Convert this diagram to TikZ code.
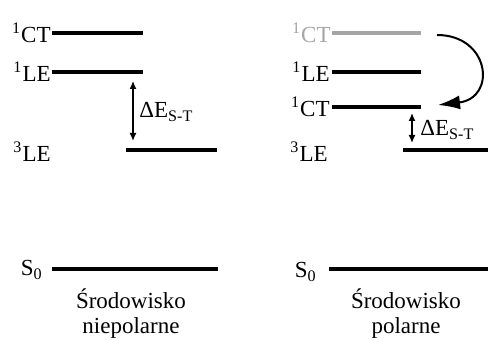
\documentclass[tikz,border=0pt]{standalone}
\usepackage{fontspec}
\setmainfont{Liberation Serif}
\usetikzlibrary{arrows.meta}
\begin{document}
\begin{tikzpicture}[x=0.5pt,y=-0.5pt,
  lvl/.style={line width=1.7pt,line cap=butt},
  lvlgray/.style={lvl,draw={rgb,255:red,165;green,165;blue,165}},
  lab/.style={font=\fontsize{11.5}{13}\selectfont,inner sep=0pt,anchor=east},
  glab/.style={lab,text={rgb,255:red,165;green,165;blue,165}},
  gap/.style={line width=0.7pt,{Latex[length=4pt,width=3.5pt]}-{Latex[length=4pt,width=3.5pt]}},
  dlab/.style={font=\fontsize{11.5}{13}\selectfont,inner sep=0pt,anchor=west},
  captxt/.style={font=\fontsize{11.5}{12.5}\selectfont,align=center,inner sep=0pt}]
\useasboundingbox (0,0) rectangle (488,340);
% left panel
\coordinate (lct1) at (52,33);  \coordinate (lct2) at (143,33);
\coordinate (lle1) at (52,72);  \coordinate (lle2) at (143,72);
\coordinate (ltl1) at (126,150); \coordinate (ltl2) at (217,150);
\coordinate (ls1) at (52,269);  \coordinate (ls2) at (218,269);
\draw[lvl] (lct1) -- (lct2);
\draw[lvl] (lle1) -- (lle2);
\draw[lvl] (ltl1) -- (ltl2);
\draw[lvl] (ls1) -- (ls2);
\node[lab] (lctl) at (51,33) {\textsuperscript{1}CT};
\node[lab] (llel) at (51,72) {\textsuperscript{1}LE};
\node[lab] (ltll) at (51,152) {\textsuperscript{3}LE};
\node[lab] (lsl) at (43,270) {S\textsubscript{0}};
\coordinate (lga) at (133,81); \coordinate (lgb) at (133,141);
\draw[gap] (lga) -- (lgb);
\node[dlab] (lgl) at (139,112) {ΔE\textsubscript{S-T}};
\node[captxt] (lcap) at (131,314) {Środowisko\\niepolarne};
% right panel
\coordinate (rct1) at (332,33);  \coordinate (rct2) at (421,33);
\coordinate (rle1) at (332,72);  \coordinate (rle2) at (421,72);
\coordinate (rcb1) at (332,107); \coordinate (rcb2) at (421,107);
\coordinate (rtl1) at (403,150); \coordinate (rtl2) at (488,150);
\coordinate (rs1) at (329,269);  \coordinate (rs2) at (488,269);
\draw[lvlgray] (rct1) -- (rct2);
\draw[lvl] (rle1) -- (rle2);
\draw[lvl] (rcb1) -- (rcb2);
\draw[lvl] (rtl1) -- (rtl2);
\draw[lvl] (rs1) -- (rs2);
\node[glab] (rctl) at (331,33) {\textsuperscript{1}CT};
\node[lab] (rlel) at (330,72) {\textsuperscript{1}LE};
\node[lab] (rcbl) at (330,107) {\textsuperscript{1}CT};
\node[lab] (rtll) at (328,152) {\textsuperscript{3}LE};
\node[lab] (rsl) at (317,272) {S\textsubscript{0}};
\coordinate (rga) at (412,113); \coordinate (rgb) at (412,143);
\draw[gap] (rga) -- (rgb);
\node[dlab] (rgl) at (420,130) {ΔE\textsubscript{S-T}};
\node[captxt] (rcap) at (406,314) {Środowisko\\polarne};
\coordinate (cva) at (437,35); \coordinate (cvb) at (438,105);
\draw[line width=1pt,-{Latex[length=11pt,width=7pt]}] (cva) .. controls (490,35) and (497,98) .. (cvb);
\end{tikzpicture}
\end{document}
